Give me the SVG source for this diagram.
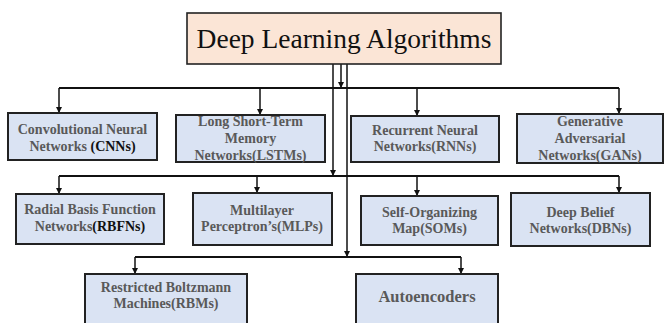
<svg xmlns="http://www.w3.org/2000/svg" width="664" height="323" viewBox="0 0 664 323">
  <defs>
    <marker id="arrow" viewBox="0 0 6 6" refX="6" refY="3" markerWidth="6" markerHeight="6" markerUnits="userSpaceOnUse" orient="auto">
      <path d="M0,0 L6,3 L0,6 Z" fill="#111"/>
    </marker>
    <style>
      .title-box { fill: #fbe5d6; stroke: #222; stroke-width: 1.6; }
      .box { fill: #dae3f3; stroke: #222; stroke-width: 2; }
      text { font-family: "Liberation Serif", Tinos, "Times New Roman", Times, "DejaVu Serif", serif; }
      .title { font-size: 27.5px; fill: #111; text-anchor: middle; }
      .label { font-size: 14px; font-weight: bold; fill: #595959; text-anchor: middle; }
      .label .dark { fill: #111; }
      .big { font-size: 16.5px; }
      .bus { fill: none; stroke: #111; stroke-width: 2; }
      .drop { fill: none; stroke: #111; stroke-width: 1.5; marker-end: url(#arrow); }
    </style>
  </defs>

  <rect width="664" height="323" fill="#fff"/>

  <!-- connectors -->
  <g id="connectors">
    <!-- trunks from the root -->
    <path class="drop" d="M341,64 V88"/>
    <path class="drop" d="M333,64 V176"/>
    <path class="drop" d="M347,64 V257"/>
    <!-- row 1 -->
    <path class="bus" d="M59,88 H619"/>
    <path class="drop" d="M59,88 V113"/>
    <path class="drop" d="M260,88 V115"/>
    <path class="drop" d="M417,88 V116"/>
    <path class="drop" d="M619,88 V114"/>
    <!-- row 2 -->
    <path class="bus" d="M59,176 H619"/>
    <path class="drop" d="M59,176 V194"/>
    <path class="drop" d="M257,176 V193"/>
    <path class="drop" d="M417,176 V196"/>
    <path class="drop" d="M619,176 V193"/>
    <!-- row 3 -->
    <path class="bus" d="M135,257 H461"/>
    <path class="drop" d="M135,257 V274"/>
    <path class="drop" d="M461,257 V274"/>
  </g>

  <g id="root">
    <rect class="title-box" x="187" y="13" width="314" height="51"/>
    <text class="title" x="344" y="48" font-family="Liberation Serif, serif">Deep Learning Algorithms</text>
  </g>

  <g id="cnn">
    <rect class="box" x="8" y="113" width="149" height="47"/>
    <text class="label" x="82.5" y="134">Convolutional Neural</text>
    <text class="label" x="82.5" y="151">Networks <tspan class="dark">(CNNs)</tspan></text>
  </g>

  <g id="lstm">
    <rect class="box" x="176" y="115" width="149" height="47"/>
    <text class="label" x="250.5" y="126">Long Short-Term</text>
    <text class="label" x="250.5" y="143">Memory</text>
    <text class="label" x="250.5" y="160">Networks(LSTMs)</text>
  </g>

  <g id="rnn">
    <rect class="box" x="351" y="116" width="148" height="46"/>
    <text class="label" x="425" y="135">Recurrent Neural</text>
    <text class="label" x="425" y="151">Networks(RNNs)</text>
  </g>

  <g id="gan">
    <rect class="box" x="517" y="114" width="146" height="49"/>
    <text class="label" x="590" y="126">Generative</text>
    <text class="label" x="590" y="143">Adversarial</text>
    <text class="label" x="590" y="160">Networks(GANs)</text>
  </g>

  <g id="rbfn">
    <rect class="box" x="16" y="194" width="148" height="50"/>
    <text class="label" x="90" y="214">Radial Basis Function</text>
    <text class="label" x="90" y="231">Networks<tspan class="dark">(RBFNs)</tspan></text>
  </g>

  <g id="mlp">
    <rect class="box" x="193" y="193" width="139" height="52"/>
    <text class="label" x="262" y="215">Multilayer</text>
    <text class="label" x="262" y="231">Perceptron’s(MLPs)</text>
  </g>

  <g id="som">
    <rect class="box" x="361" y="196" width="137" height="49"/>
    <text class="label" x="429.5" y="217">Self-Organizing</text>
    <text class="label" x="429.5" y="233">Map(SOMs)</text>
  </g>

  <g id="dbn">
    <rect class="box" x="511" y="193" width="139" height="53"/>
    <text class="label" x="580.5" y="217">Deep Belief</text>
    <text class="label" x="580.5" y="233">Networks(DBNs)</text>
  </g>

  <g id="rbm">
    <rect class="box" x="85" y="274" width="162" height="60"/>
    <text class="label" x="166" y="292">Restricted Boltzmann</text>
    <text class="label" x="166" y="308">Machines(RBMs)</text>
  </g>

  <g id="autoencoders">
    <rect class="box" x="356" y="274" width="142" height="60"/>
    <text class="label big" x="427" y="302">Autoencoders</text>
  </g>
</svg>
